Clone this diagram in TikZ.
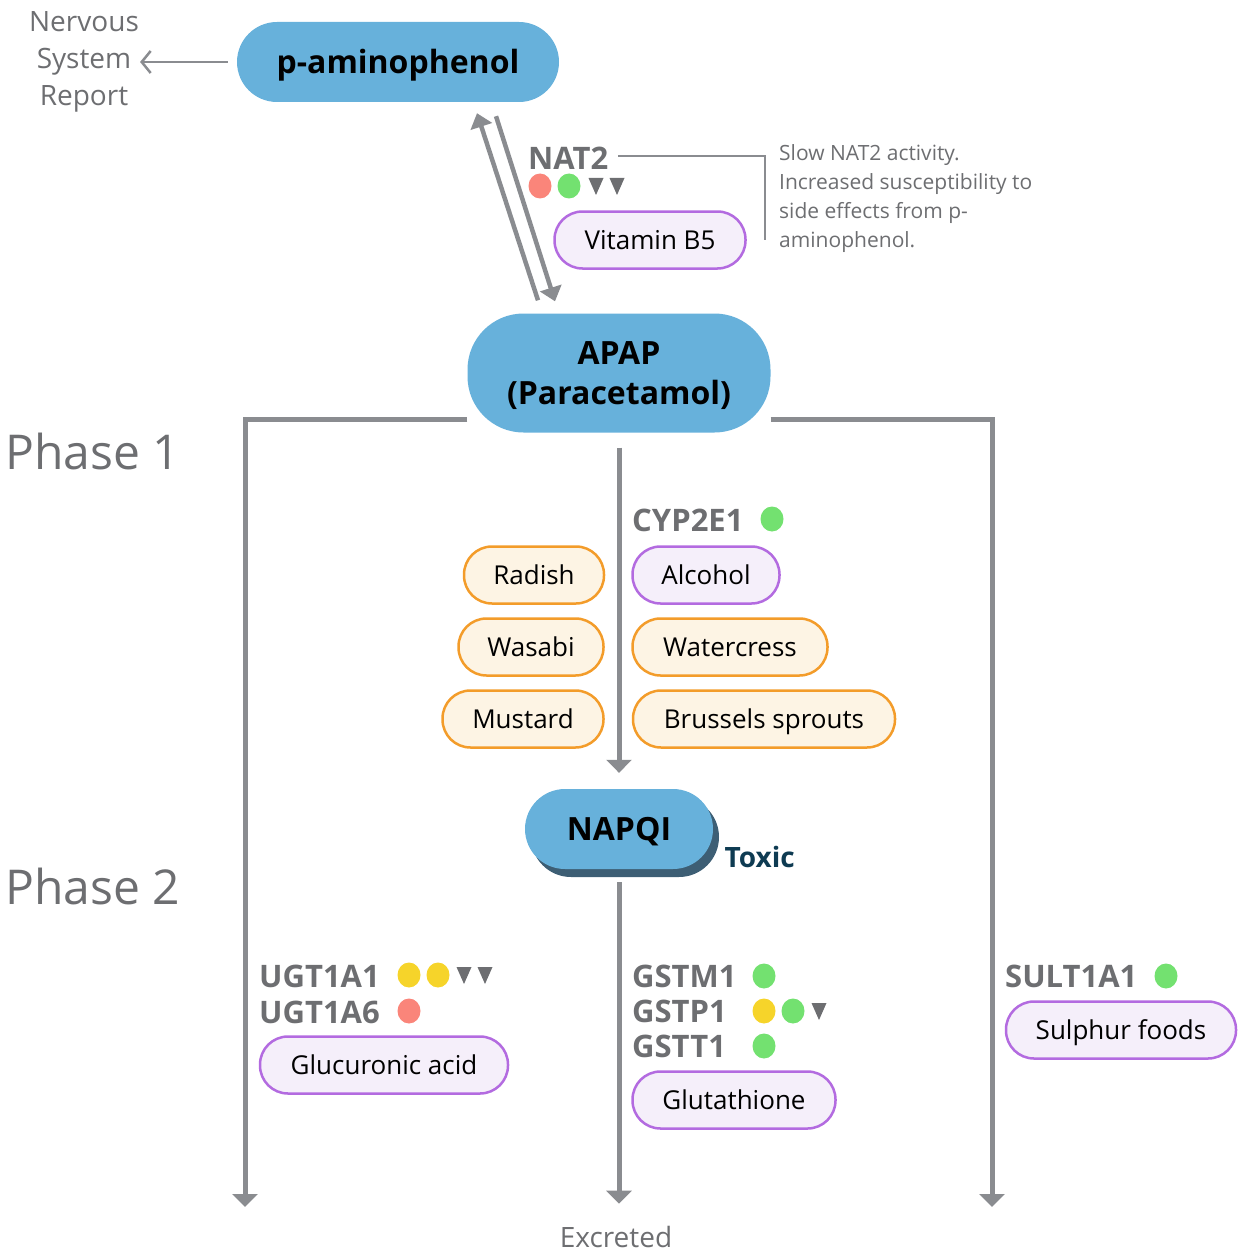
\documentclass[tikz,border=0pt]{standalone}
\usepackage{fontspec}
\setmainfont{Open Sans}
\usepackage{tikz}
\usetikzlibrary{arrows.meta,calc,backgrounds,shadows}
\definecolor{molecule}{HTML}{67B1DB}
\definecolor{shade}{HTML}{3D5E74}
\definecolor{flowgray}{HTML}{8A8C90}
\definecolor{genegray}{HTML}{6D6E71}
\definecolor{cofedge}{HTML}{B36BE0}
\definecolor{coffill}{HTML}{F5EFFA}
\definecolor{foodedge}{HTML}{F39C2A}
\definecolor{foodfill}{HTML}{FDF4E4}
\definecolor{snpred}{HTML}{FA857A}
\definecolor{snpgreen}{HTML}{73E170}
\definecolor{snpyellow}{HTML}{F6D42A}
\definecolor{toxic}{HTML}{0E3B52}
\newcommand{\downtri}[1]{\fill[genegray] #1 ++(-7.5,-8) -- ++(15,0) -- ++(-7.5,17) -- cycle;}

\begin{document}
\begin{tikzpicture}[x=1pt,y=-1pt,
  molecule/.style={fill=molecule,rounded corners=40pt,minimum height=80pt,text height=23pt,text depth=0pt,font=\fontsize{32}{40}\selectfont\bfseries},
  cofactor/.style={draw=cofedge,fill=coffill,line width=2.5pt,rounded corners=28pt,minimum height=57pt,text height=19pt,text depth=0pt,font=\fontsize{26}{30}\selectfont},
  food/.style={draw=foodedge,fill=foodfill,line width=2.5pt,rounded corners=28pt,minimum height=57pt,text height=19pt,text depth=0pt,font=\fontsize{26}{30}\selectfont},
  gene/.style={anchor=west,inner sep=0pt,text=genegray,font=\fontsize{31}{35}\selectfont\bfseries},
  flow/.style={draw=flowgray,line width=5pt,-{Triangle[length=13pt,width=25pt]}},
  swap/.style={draw=flowgray,line width=4.5pt,-{Triangle[length=14pt,width=22pt]}}]
  \useasboundingbox (0,0) rectangle (1243,1252);

  % Molecules
  \node[molecule,minimum width=322pt] (pamino) at (398,62) {p-aminophenol};
  \node[molecule,minimum width=303pt,minimum height=119pt,rounded corners=56pt,align=center,text height=,text depth=0pt] (apap) at (619,373) {APAP\\(Paracetamol)};
  \node[molecule,minimum width=188pt,drop shadow={shadow xshift=6pt,shadow yshift=-8pt,fill=shade,opacity=1}] (napqi) at (619,829) {NAPQI};
  \node[anchor=west,text=toxic,font=\fontsize{28}{32}\selectfont\bfseries] (toxic) at (721,857) {Toxic};

  % Side labels
  \node[inner sep=1pt,align=center,text=genegray,font=\fontsize{28}{37}\selectfont] (nervous) at (84,62) {Nervous\\System\\Report};
  \draw[flowgray,line width=2.5pt,-{Straight Barb[length=9pt,width=22pt]}] ([xshift=-9pt]pamino.west) -- (nervous.east |- pamino.west);
  \node[anchor=west,text=genegray,font=\fontsize{48}{52}\selectfont] (phase1) at (2,451) {Phase 1};
  \node[anchor=west,text=genegray,font=\fontsize{48}{52}\selectfont] (phase2) at (2,886) {Phase 2};
  \node[text=genegray,font=\fontsize{28}{32}\selectfont] (excreted) at (616,1237) {Excreted};

  % NAT2
  \draw[swap] ($(apap.north)+(-81,-13)$) -- ($(pamino.south)+(79,11)$);
  \draw[swap] ($(pamino.south)+(98,14)$) -- ($(apap.north)+(-64,-12)$);
  \node[gene] (nat2) at (528,158) {NAT2};
  \fill[snpred] (540,186) ellipse (11.5pt and 12.5pt);
  \fill[snpgreen] (569,186) ellipse (11.5pt and 12.5pt);
  \downtri{(596,186)}
  \downtri{(617,186)}
  \node[cofactor,minimum width=191pt] (vitb5) at (650,240) {Vitamin B5};
  \coordinate (notebend) at (765,240);
  \draw[flowgray,line width=1.2pt] ([xshift=10pt,yshift=2pt]nat2.east) -| (notebend);
  \node[anchor=north west,inner sep=0pt,align=left,text=genegray,font=\fontsize{21}{29}\selectfont] (note) at (779,144) {Slow NAT2 activity.\\Increased susceptibility to\\side effects from p-\\aminophenol.};

  % Phase 1 pathways
  \begin{scope}[on background layer]
    \coordinate (leftout) at (245,1207);
    \coordinate (rightout) at (992,1207);
    \draw[flow] ([yshift=-46pt]apap.west) -| (leftout);
    \draw[flow] ([yshift=-46pt]apap.east) -| (rightout);
  \end{scope}
  \draw[flow] ([yshift=-15pt]apap.south) -- ([yshift=16pt]napqi.north);

  % CYP2E1
  \node[gene] (cyp2e1) at (632,520) {CYP2E1};
  \fill[snpgreen] (772,519) ellipse (11.5pt and 12.5pt);
  \node[cofactor,minimum width=147pt] (alcohol) at (706,575) {Alcohol};
  \node[food,minimum width=195pt] (watercress) at (730,647) {Watercress};
  \node[food,minimum width=262pt] (brussels) at (764,719) {Brussels sprouts};
  \node[food,minimum width=140pt] (radish) at (534,575) {Radish};
  \node[food,minimum width=145pt] (wasabi) at (531,647) {Wasabi};
  \node[food,minimum width=161pt] (mustard) at (523,719) {Mustard};

  % Phase 2
  \draw[flow] ([yshift=-13pt]napqi.south) -- ([yshift=19pt]napqi.south |- excreted.north);

  \node[gene] (ugt1a1) at (259,976) {UGT1A1};
  \fill[snpyellow] (409,975) ellipse (11.5pt and 12.5pt);
  \fill[snpyellow] (438,975) ellipse (11.5pt and 12.5pt);
  \downtri{(464,975)}
  \downtri{(485,975)}
  \node[gene] (ugt1a6) at (259,1012) {UGT1A6};
  \fill[snpred] (409,1011) ellipse (11.5pt and 12.5pt);
  \node[cofactor,minimum width=248pt] (glucuronic) at (384,1065) {Glucuronic acid};

  \node[gene] (gstm1) at (632,976) {GSTM1};
  \fill[snpgreen] (764,976) ellipse (11.5pt and 12.5pt);
  \node[gene] (gstp1) at (632,1011) {GSTP1};
  \fill[snpyellow] (764,1011) ellipse (11.5pt and 12.5pt);
  \fill[snpgreen] (793,1011) ellipse (11.5pt and 12.5pt);
  \downtri{(819,1011)}
  \node[gene] (gstt1) at (632,1046) {GSTT1};
  \fill[snpgreen] (764,1046) ellipse (11.5pt and 12.5pt);
  \node[cofactor,minimum width=203pt] (glutathione) at (734,1100) {Glutathione};

  \node[gene] (sult1a1) at (1005,976) {SULT1A1};
  \fill[snpgreen] (1166,976) ellipse (11.5pt and 12.5pt);
  \node[cofactor,minimum width=230pt] (sulphur) at (1121,1030) {Sulphur foods};
\end{tikzpicture}
\end{document}
